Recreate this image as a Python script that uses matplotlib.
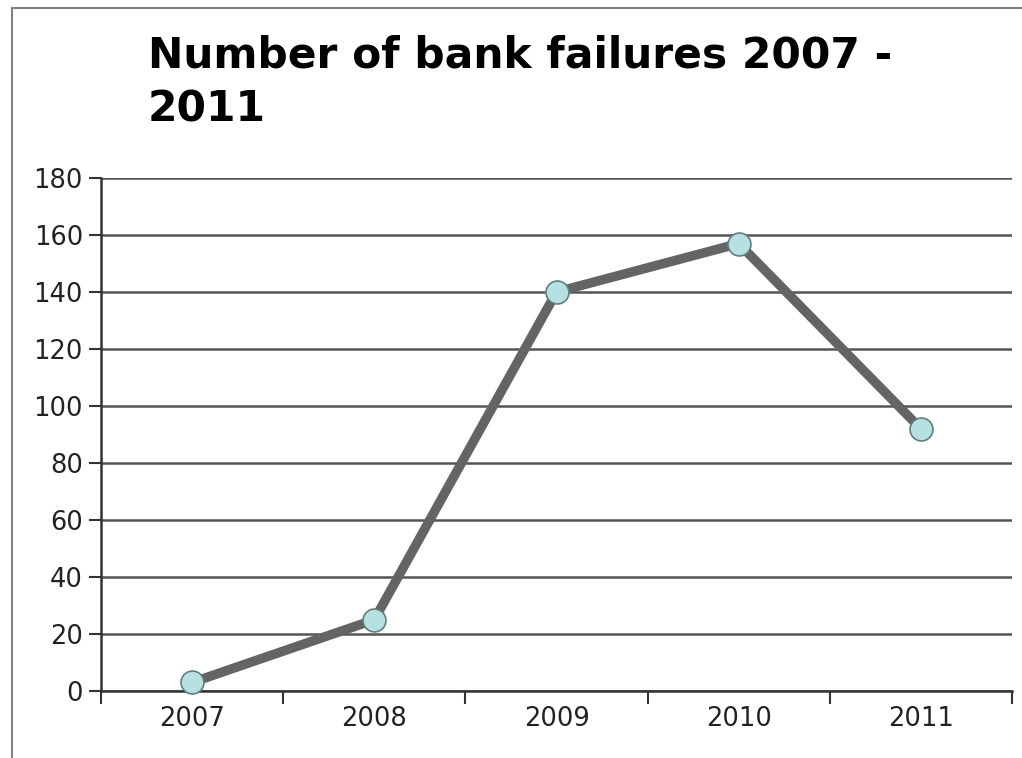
import matplotlib
matplotlib.use("Agg")
import matplotlib.pyplot as plt
from matplotlib.patches import Rectangle

years = ["2007", "2008", "2009", "2010", "2011"]
failures = [3, 25, 140, 157, 92]
y_ticks = [0, 20, 40, 60, 80, 100, 120, 140, 160, 180]
title = "Number of bank failures 2007 -\n2011"

W, H = 1022, 758
fig = plt.figure(figsize=(W / 100, H / 100), dpi=100)
plt.rcParams['font.family'] = ['DejaVu Sans']

# outer frame (top and left visible)
fig.patches.append(Rectangle((12 / W, -0.1), 1.2, 1 - 8 / H + 0.1, transform=fig.transFigure,
                             fill=False, edgecolor="#808080", linewidth=1.5))

left, right, top, bottom = 101, 1012, 178, 691
ax = fig.add_axes([left / W, 1 - bottom / H, (right - left) / W, (bottom - top) / H])

x = list(range(len(years)))
ax.plot(x, failures, color="#646464", linewidth=6.8, solid_capstyle="round", zorder=3,
        marker="o", markersize=16.5, markerfacecolor="#b7e0e3", markeredgecolor="#5f7f80",
        markeredgewidth=1.2, clip_on=False)

ax.set_xlim(-0.5, len(years) - 0.5)
ax.set_ylim(0, 180)
ax.set_yticks(y_ticks)
ax.set_yticklabels([str(v) for v in y_ticks], fontsize=18.5, color="#222222")
ax.set_xticks(x)
ax.set_xticklabels(years, fontsize=18.5, color="#222222")
ax.set_xticks([i - 0.5 for i in range(len(years) + 1)], minor=True)
ax.tick_params(axis="x", which="major", length=0, pad=11)
ax.tick_params(axis="x", which="minor", length=9, width=1.5, color="#333333", direction="out")
ax.tick_params(axis="y", length=9, width=1.5, color="#333333", direction="out", pad=4)

ax.grid(axis="y", color="#555555", linewidth=1.8, zorder=1)
ax.set_axisbelow(True)
for s in ["top", "right"]:
    ax.spines[s].set_visible(False)
for s in ["left", "bottom"]:
    ax.spines[s].set_color("#333333")
    ax.spines[s].set_linewidth(1.8)

fig.text(148 / W, 1 - 35 / H, title, fontsize=30.5, fontweight="bold", ha="left", va="top",
         color="#000000", linespacing=1.35)

fig.savefig("out.png", dpi=100)
